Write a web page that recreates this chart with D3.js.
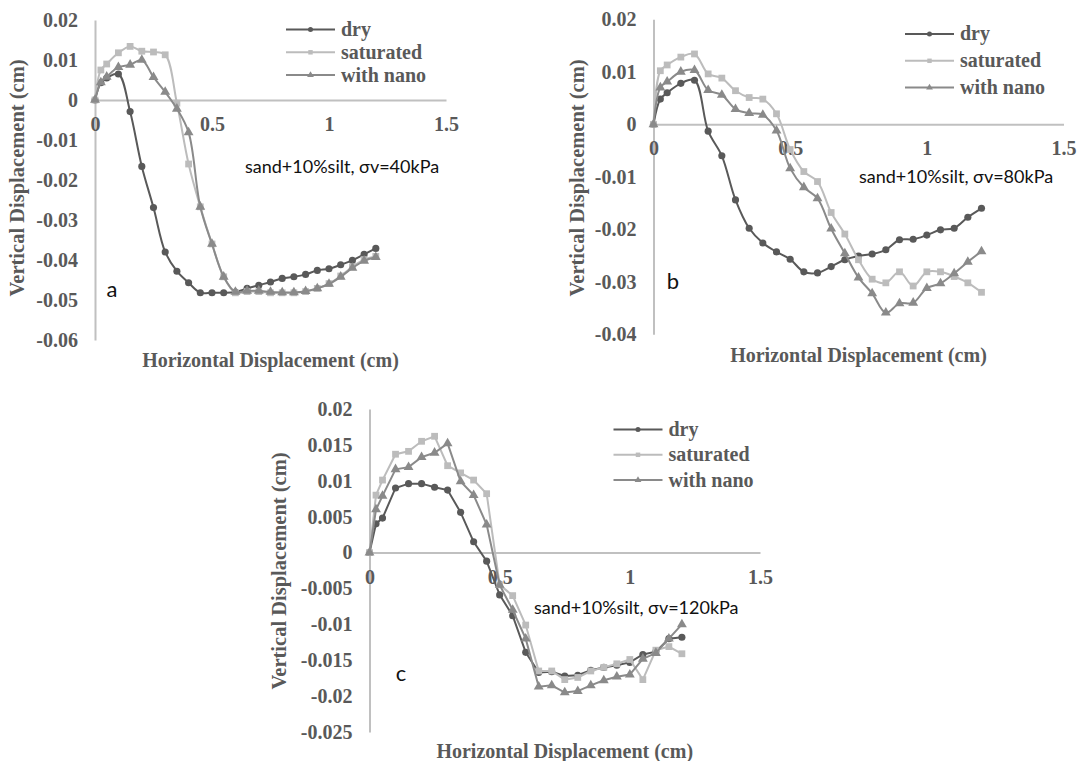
<!DOCTYPE html>
<html>
<head>
<meta charset="utf-8">
<script src="https://cdn.jsdelivr.net/npm/d3@7"></script>
<style>
  body { margin: 0; background: #fff; }
  .serif { font-family: "Liberation Serif", "Times New Roman", serif; font-weight: bold; fill: #595959; }
  .note { font-family: Lato, Carlito, "Liberation Sans", sans-serif; fill: #111; }
</style>
</head>
<body>
<svg id="chart" width="1079" height="761"></svg>
<script>
// shared horizontal displacement steps (cm)
var xSteps = [0, 0.025, 0.05, 0.1, 0.15, 0.2, 0.25, 0.3, 0.35, 0.4, 0.45, 0.5, 0.55, 0.6,
    0.65, 0.7, 0.75, 0.8, 0.85, 0.9, 0.95, 1.0, 1.05, 1.1, 1.15, 1.2];
var seriesNames = ["dry", "saturated", "with nano"];
var xTicks = [0, 0.5, 1, 1.5];

// panel a : sigma v = 40 kPa
var yTicksA = [0.02, 0.01, 0, -0.01, -0.02, -0.03, -0.04, -0.05, -0.06];
var dryA = [0, 0.0043, 0.0055, 0.0065, -0.0029, -0.0166, -0.0269, -0.038, -0.0428, -0.0457, -0.0482, -0.0482, -0.0482,
    -0.048, -0.0471, -0.0463, -0.0455, -0.0446, -0.0442, -0.0436, -0.0426, -0.0422, -0.0412, -0.0401, -0.0386, -0.0371];
var satA = [0, 0.0075, 0.009, 0.0118, 0.0134, 0.0122, 0.012, 0.0113, -0.0008, -0.016, -0.0267, -0.036, -0.0442,
    -0.0482, -0.0479, -0.0479, -0.0482, -0.0482, -0.0482, -0.0479, -0.0471, -0.0459, -0.044, -0.0417, -0.0399, -0.0391];
var nanoA = [0, 0.0044, 0.0058, 0.0082, 0.0088, 0.01, 0.0057, 0.002, -0.0022, -0.0081, -0.0267, -0.036, -0.0442,
    -0.048, -0.0477, -0.0477, -0.048, -0.0481, -0.0481, -0.0478, -0.0471, -0.046, -0.0442, -0.042, -0.0402, -0.0393];

// panel b : sigma v = 80 kPa
var yTicksB = [0.02, 0.01, 0, -0.01, -0.02, -0.03, -0.04];
var dryB = [0, 0.0048, 0.006, 0.0078, 0.0084, -0.0013, -0.006, -0.0144, -0.0198, -0.0226, -0.0243, -0.0257, -0.0281,
    -0.0283, -0.0271, -0.0258, -0.0251, -0.0247, -0.0239, -0.022, -0.0219, -0.0211, -0.0201, -0.0198, -0.0177, -0.016];
var satB = [0, 0.0102, 0.0113, 0.0128, 0.0134, 0.0096, 0.0088, 0.0064, 0.0051, 0.0048, 0.002, -0.0048, -0.009,
    -0.0109, -0.0168, -0.0209, -0.0258, -0.0295, -0.0302, -0.0281, -0.0308, -0.0281, -0.0281, -0.029, -0.0302, -0.032];
var nanoB = [0, 0.007, 0.0081, 0.01, 0.0103, 0.0065, 0.0056, 0.0029, 0.0021, 0.0018, -0.0012, -0.0084, -0.012,
    -0.0141, -0.0199, -0.0246, -0.0292, -0.0322, -0.0359, -0.0341, -0.034, -0.0312, -0.0303, -0.0284, -0.0262, -0.0242];

// panel c : sigma v = 120 kPa
var yTicksC = [0.02, 0.015, 0.01, 0.005, 0, -0.005, -0.01, -0.015, -0.02, -0.025];
var dryC = [0, 0.004, 0.0048, 0.009, 0.0096, 0.0096, 0.0091, 0.0087, 0.0056, 0.0015, -0.0012, -0.0059, -0.0088,
    -0.0139, -0.0167, -0.0166, -0.0172, -0.0171, -0.0164, -0.016, -0.0157, -0.0153, -0.0142, -0.0138, -0.012, -0.0118];
var satC = [0, 0.008, 0.0101, 0.0137, 0.0141, 0.0155, 0.0162, 0.0121, 0.0111, 0.0101, 0.0082, -0.0045, -0.006,
    -0.0101, -0.0165, -0.0165, -0.0177, -0.0174, -0.0165, -0.016, -0.0155, -0.0149, -0.0177, -0.0136, -0.0131, -0.0141];
var nanoC = [0, 0.006, 0.0079, 0.0116, 0.0119, 0.0133, 0.0139, 0.0152, 0.0099, 0.008, 0.0039, -0.0045, -0.008,
    -0.012, -0.0187, -0.0185, -0.0195, -0.0193, -0.0185, -0.0178, -0.0173, -0.017, -0.0148, -0.014, -0.012, -0.01];

// look of the three series
var colors = ["#595959", "#bcbcbc", "#8a8a8a"];
var symbols = [d3.symbolCircle, d3.symbolSquare, d3.symbolTriangle];
var symbolSizes = [40, 46, 42];
var axisColor = "#c0c0c0";

var svg = d3.select("#chart");

function drawPanel(cfg) {
    var g = svg.append("g");

    var x = d3.scaleLinear().domain([0, 1.5]).range([cfg.x0, cfg.x1]);
    var y = d3.scaleLinear().domain(cfg.yDomain).range([cfg.yBot, cfg.yTop]);

    // y axis on x = 0
    var yAxis = g.append("g")
        .attr("transform", `translate(${x(0)},0)`)
        .call(d3.axisLeft(y).tickValues(cfg.yTicks).tickFormat(d => String(d))
            .tickSizeInner(0).tickSizeOuter(0).tickPadding(17));
    yAxis.select(".domain").attr("stroke", axisColor).attr("stroke-width", 2);
    yAxis.selectAll("text").attr("class", "serif").style("font-size", "20px");

    // x axis through y = 0, labels below
    var xAxis = g.append("g")
        .attr("transform", `translate(0,${y(0)})`)
        .call(d3.axisBottom(x).tickValues(xTicks).tickFormat(d => String(d))
            .tickSizeInner(0).tickSizeOuter(0).tickPadding(0));
    xAxis.select(".domain").attr("stroke", axisColor).attr("stroke-width", 2);
    xAxis.selectAll("text").attr("class", "serif").style("font-size", "20px")
        .attr("y", 24).attr("dy", "0.35em");
    xAxis.selectAll("line").remove();
    yAxis.selectAll("line").remove();

    // series lines and markers
    var line = d3.line()
        .x((d, i) => x(xSteps[i]))
        .y(d => y(d))
        .curve(cfg.smooth ? d3.curveCatmullRom.alpha(0.5) : d3.curveLinear);

    cfg.series.forEach(function(vals, k) {
        g.append("path")
            .datum(vals)
            .attr("d", line)
            .attr("fill", "none")
            .attr("stroke", colors[k])
            .attr("stroke-width", 2);

        g.selectAll(".m" + k)
            .data(vals)
            .enter()
            .append("path")
            .attr("class", "m" + k)
            .attr("transform", (d, i) => `translate(${x(xSteps[i])},${y(d)})`)
            .attr("d", d3.symbol().type(symbols[k]).size(symbolSizes[k]))
            .attr("fill", colors[k]);
    });

    // legend
    seriesNames.forEach(function(name, k) {
        var ly = cfg.legend.y + k * cfg.legend.gap;
        g.append("line")
            .attr("x1", cfg.legend.x).attr("x2", cfg.legend.x + 49)
            .attr("y1", ly).attr("y2", ly)
            .attr("stroke", colors[k]).attr("stroke-width", 2);
        g.append("path")
            .attr("transform", `translate(${cfg.legend.x + 24.5},${ly})`)
            .attr("d", d3.symbol().type(symbols[k]).size(20))
            .attr("fill", colors[k]);
        g.append("text")
            .attr("class", "serif")
            .attr("x", cfg.legend.x + 55)
            .attr("y", ly)
            .attr("dy", "0.32em")
            .style("font-size", "20px")
            .text(name);
    });

    // axis titles
    g.append("text")
        .attr("class", "serif")
        .attr("transform", `translate(${cfg.yTitleX},${cfg.yTitleY}) rotate(-90)`)
        .attr("text-anchor", "middle")
        .attr("dy", "0.35em")
        .style("font-size", "20.5px")
        .text("Vertical Displacement (cm)");

    g.append("text")
        .attr("class", "serif")
        .attr("x", (cfg.x0 + cfg.x1) / 2)
        .attr("y", cfg.xTitleY)
        .attr("text-anchor", "middle")
        .attr("dy", "0.35em")
        .style("font-size", "20px")
        .text("Horizontal Displacement (cm)");

    // test condition note and panel letter
    g.append("text")
        .attr("class", "note")
        .attr("x", cfg.note.x)
        .attr("y", cfg.note.y)
        .attr("dy", "0.35em")
        .style("font-size", "18px")
        .text(cfg.note.text);

    g.append("text")
        .attr("class", "note")
        .attr("x", cfg.letter.x)
        .attr("y", cfg.letter.y)
        .attr("text-anchor", "middle")
        .attr("dy", "0.35em")
        .style("font-size", "22px")
        .text(cfg.letter.text);
}

drawPanel({
    x0: 95, x1: 446, yTop: 20, yBot: 340, yDomain: [-0.06, 0.02], yTicks: yTicksA,
    series: [dryA, satA, nanoA], smooth: true,
    legend: { x: 286, y: 29.5, gap: 22.8 },
    yTitleX: 17, yTitleY: 178, xTitleY: 360,
    note: { text: "sand+10%silt, σv=40kPa", x: 245, y: 166.5 },
    letter: { text: "a", x: 112, y: 289 }
});

drawPanel({
    x0: 653.5, x1: 1063.5, yTop: 19.3, yBot: 334.3, yDomain: [-0.04, 0.02], yTicks: yTicksB,
    series: [dryB, satB, nanoB], smooth: true,
    legend: { x: 905, y: 34, gap: 26.8 },
    yTitleX: 577, yTitleY: 178, xTitleY: 355,
    note: { text: "sand+10%silt, σv=80kPa", x: 859, y: 176.5 },
    letter: { text: "b", x: 673, y: 281 }
});

drawPanel({
    x0: 369.5, x1: 760, yTop: 409, yBot: 732, yDomain: [-0.025, 0.02], yTicks: yTicksC,
    series: [dryC, satC, nanoC], smooth: false,
    legend: { x: 613.5, y: 429.5, gap: 25.3 },
    yTitleX: 279, yTitleY: 571, xTitleY: 751,
    note: { text: "sand+10%silt, σv=120kPa", x: 534, y: 608 },
    letter: { text: "c", x: 401, y: 673 }
});
</script>
</body>
</html>
